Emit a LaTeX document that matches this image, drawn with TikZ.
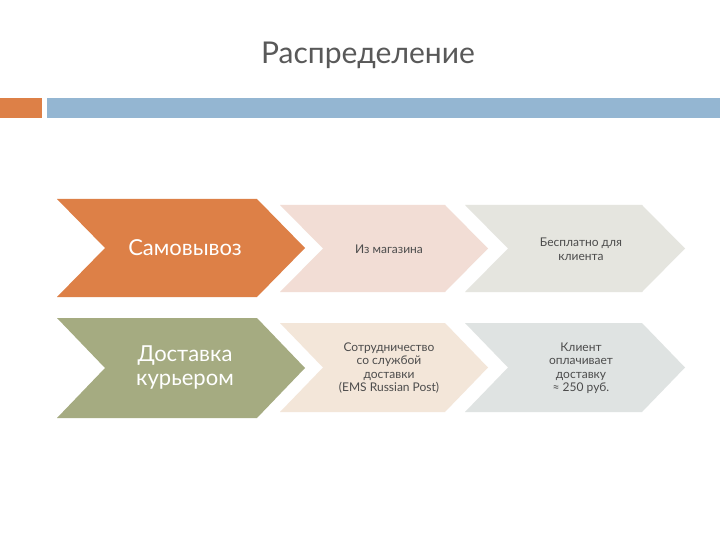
\documentclass[tikz,border=0pt]{standalone}
\usepackage{fontspec}
\setmainfont{Lato}
\begin{document}
\begin{tikzpicture}[x=1pt,y=-1pt,
 txt/.style={text=black!70,align=center,font=\fontsize{12}{13.5}\selectfont},
 big/.style={text=white,align=center,font=\fontsize{22}{24}\selectfont}]
\useasboundingbox (0,0) rectangle (720,540);
\fill[white] (0,0) rectangle (720,540);
\node[text=black!65,font=\fontsize{30}{32}\selectfont] (title) at (368,55) {Распределение};
\fill[fill={rgb,255:red,221;green,128;blue,71}] (0,98) rectangle (42,118);
\fill[fill={rgb,255:red,148;green,182;blue,210}] (47,98) rectangle (720,118);
% row1
\fill[fill={rgb,255:red,242;green,221;blue,213}] (280,205) -- (445,205) -- (488,248.5) -- (445,292) -- (280,292) -- (323,248.5) -- cycle;
\fill[fill={rgb,255:red,229;green,229;blue,223}] (465,205) -- (642,205) -- (685,248.5) -- (642,292) -- (465,292) -- (508,248.5) -- cycle;
\fill[fill={rgb,255:red,221;green,128;blue,71}] (57,199) -- (257,199) -- (305,248) -- (257,297) -- (57,297) -- (105,248) -- cycle;
% row2
\fill[fill={rgb,255:red,243;green,230;blue,217}] (280,323) -- (445,323) -- (488,367.5) -- (445,412) -- (280,412) -- (323,367.5) -- cycle;
\fill[fill={rgb,255:red,223;green,227;blue,226}] (465,323) -- (642,323) -- (685,367.5) -- (642,412) -- (465,412) -- (508,367.5) -- cycle;
\fill[fill={rgb,255:red,165;green,171;blue,129}] (57,318) -- (257,318) -- (305,368) -- (257,418) -- (57,418) -- (105,368) -- cycle;
\node[big] (a1) at (185,248) {Самовывоз};
\node[big] (a2) at (185,368) {Доставка\\курьером};
\node[txt] (b1) at (389,249) {Из магазина};
\node[txt] (c1) at (581,249) {Бесплатно для\\клиента};
\node[txt] (b2) at (389,368) {Сотрудничество\\со службой\\доставки\\(EMS Russian Post)};
\node[txt] (c2) at (581,368) {Клиент\\оплачивает\\доставку\\≈ 250 руб.};
\end{tikzpicture}
\end{document}
